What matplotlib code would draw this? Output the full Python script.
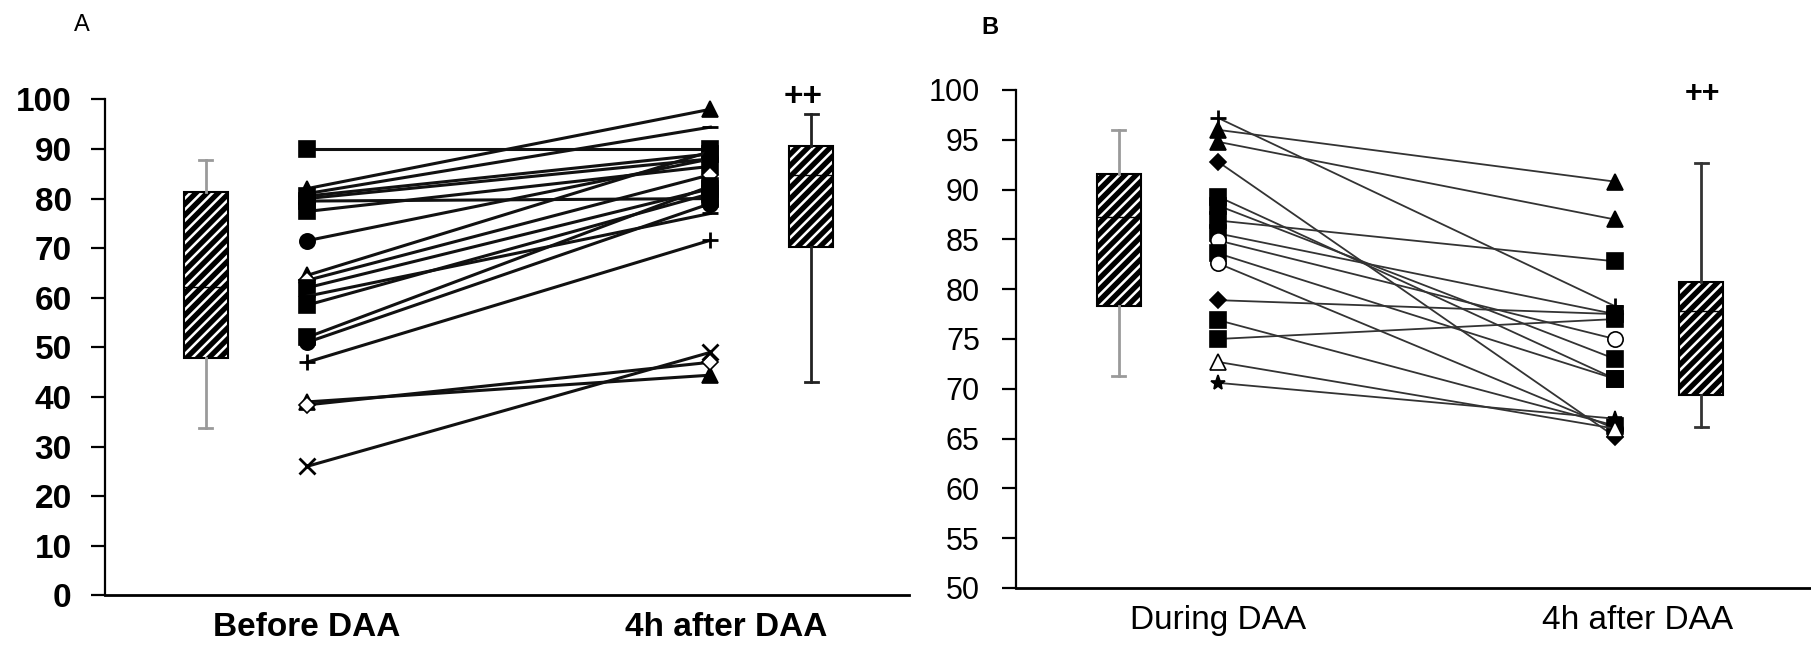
import matplotlib.pyplot as plt

plt.rcParams['font.family'] = ['Liberation Sans', 'DejaVu Sans']
plt.rcParams['hatch.linewidth'] = 3.8

# ---- panel A ----
a_categories = ["Before DAA", "4h after DAA"]
a_before = [90, 82, 81, 80.5, 80, 79.5, 77.4, 71.5, 64.5, 63.5, 62, 60.3, 58.5, 52, 51, 47, 39, 38.4, 26]
a_after = [90, 98, 94.4, 89, 88, 80, 86.5, 88, 89.5, 84.8, 82, 77, 81, 82.5, 79, 71.6, 44.4, 47, 49]
a_markers = ['s', '^', '_', 's', 'o', 's', 's', 'o', '^', 'D', 's', '_', 's', 's', 'o', '+', '^', 'D', 'x']
a_hollow = [False] * 9 + [True] + [False] * 7 + [True, False]
# whislo, q1, median, q3, whishi
a_box_before = [33.7, 47.8, 62.1, 81.3, 87.8]
a_box_after = [43.0, 70.2, 84.8, 90.7, 97.1]
a_yticks = list(range(0, 101, 10))

# ---- panel B ----
b_categories = ["During DAA", "4h after DAA"]
b_before = [97.2, 96.0, 94.8, 92.8, 89.3, 88.4, 86.9, 85.6, 84.9, 83.6, 82.6, 78.9, 76.9, 75.0, 72.7, 70.6]
b_after = [78.3, 90.8, 87.0, 65.2, 71.0, 73.0, 82.8, 77.5, 75.0, 71.0, 66.0, 77.5, 66.3, 77.0, 66.0, 67.0]
b_markers = ['+', '^', '^', 'D', 's', 's', 's', 's', 'o', 's', 'o', 'D', 's', 's', '^', '*']
b_hollow = [False] * 8 + [True, False, True, False, False, False, True, False]
b_box_during = [71.3, 78.3, 87.2, 91.6, 96.0]
b_box_after = [66.2, 69.4, 77.8, 80.7, 92.7]
b_yticks = list(range(50, 101, 5))


def box_stats(v):
    return dict(whislo=v[0], q1=v[1], med=v[2], q3=v[3], whishi=v[4], fliers=[])


def draw_panel(ax, before, after, markers, hollow, boxes, box_pos, whisk_cols,
               lw, lcol, ms):
    for b, a, m, h in zip(before, after, markers, hollow):
        small = m in ('D',)
        ax.plot([2, 6], [b, a], color=lcol, lw=lw, marker=m,
                ms=ms * (0.75 if small else 1), mew=2 if m in '+x_' else 1.2,
                mfc='white' if h else 'black', mec='black', zorder=3)
    bp = ax.bxp([box_stats(v) for v in boxes], positions=box_pos, widths=0.44,
                patch_artist=True, showfliers=False, capwidths=0.13,
                boxprops=dict(facecolor='white', edgecolor='black', hatch='///', lw=1.5),
                medianprops=dict(color='black', lw=1))
    for i, c in enumerate(whisk_cols):
        for ln in bp['whiskers'][2 * i:2 * i + 2] + bp['caps'][2 * i:2 * i + 2]:
            ln.set_color(c)
            ln.set_linewidth(2)
    for s in ('top', 'right'):
        ax.spines[s].set_visible(False)
    ax.spines['left'].set_linewidth(1.6)
    ax.spines['bottom'].set_linewidth(2)
    ax.tick_params(axis='x', length=0)


fig = plt.figure(figsize=(18.11, 6.47), dpi=100)

axA = fig.add_axes([0.058, 0.0798, 0.444, 0.7666])
draw_panel(axA, a_before, a_after, a_markers, a_hollow,
           [a_box_before, a_box_after], [1, 7], ['#9a9a9a', '#222222'],
           2.2, '#111111', 11)
axA.set_xlim(0, 7.97)
axA.set_ylim(0, 100)
axA.set_yticks(a_yticks)
axA.set_xticks([2, 6.16], a_categories)
axA.tick_params(axis='y', length=10, width=1.6, pad=14)
for t in axA.get_yticklabels() + axA.get_xticklabels():
    t.set_fontweight('bold')
    t.set_fontsize(24)
axA.tick_params(axis='x', pad=12)
axA.text(6.92, 100.3, '++', ha='center', va='center', fontsize=24,
         fontweight='bold', clip_on=False)

axB = fig.add_axes([0.561, 0.0912, 0.439, 0.7697])
draw_panel(axB, b_before, b_after, b_markers, b_hollow,
           [b_box_during, b_box_after], [1, 6.87], ['#9a9a9a', '#333333'],
           1.3, '#333333', 11)
axB.set_xlim(-0.035, 7.975)
axB.set_ylim(50, 100)
axB.set_yticks(b_yticks)
axB.set_xticks([2, 6.23], b_categories)
axB.tick_params(axis='y', length=10, width=1.6, pad=16, labelsize=22)
axB.tick_params(axis='x', pad=12, labelsize=24)
axB.text(6.88, 99.6, '++', ha='center', va='center', fontsize=22,
         fontweight='bold', clip_on=False)

fig.text(82 / 1811, 1 - 25 / 647, 'A', ha='center', va='center', fontsize=17)
fig.text(990 / 1811, 1 - 27 / 647, 'B', ha='center', va='center', fontsize=17,
         fontweight='bold')

fig.savefig('out.png', dpi=100)
